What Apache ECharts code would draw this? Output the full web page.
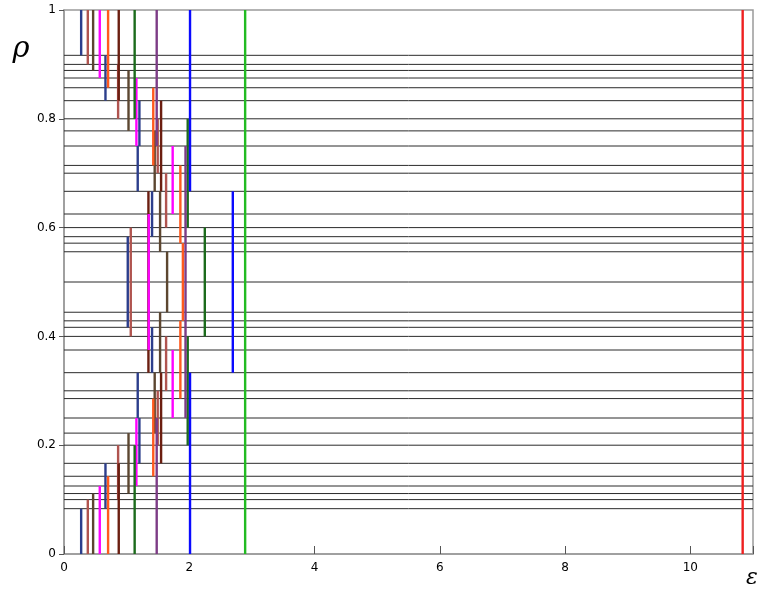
<!DOCTYPE html>
<html>
<head>
<meta charset="utf-8">
<script src="https://cdn.jsdelivr.net/npm/echarts@6/dist/echarts.min.js"></script>
<style>html,body{margin:0;padding:0;background:#fff}#c{width:760px;height:594px}</style>
</head>
<body>
<div id="c"></div>
<script>
// Axis ranges and tick labels
const xRange = [0, 11];
const yRange = [0, 1];
const xTickStep = 2;
const yTickStep = 0.2;

// Horizontal reference levels (rational rho values)
const rhoLevels = [
  0.0833, 0.1, 0.1111, 0.125, 0.1429, 0.1667, 0.2, 0.2222, 0.25, 0.2857, 0.3,
  0.3333, 0.375, 0.4, 0.4167, 0.4286, 0.4444, 0.5, 0.5556, 0.5714, 0.5833, 0.6,
  0.625, 0.6667, 0.7, 0.7143, 0.75, 0.7778, 0.8, 0.8333, 0.8571, 0.875, 0.8889,
  0.9, 0.9167
];

// Vertical segments: [epsilon, rhoLow, rhoHigh]
const segQ12 = [
  [0.274, 0, 0.0833], [0.274, 0.9167, 1],
  [0.662, 0.0833, 0.1667], [0.662, 0.8333, 0.9167],
  [1.204, 0.1667, 0.25], [1.204, 0.75, 0.8333],
  [1.177, 0.25, 0.3333], [1.177, 0.6667, 0.75],
  [1.406, 0.3333, 0.4167], [1.406, 0.5833, 0.6667],
  [1.018, 0.4167, 0.5833]
];
const segQ10 = [
  [0.380, 0, 0.1], [0.380, 0.9, 1],
  [0.864, 0.1, 0.2], [0.864, 0.8, 0.9],
  [1.496, 0.2, 0.3], [1.496, 0.7, 0.8],
  [1.630, 0.3, 0.4], [1.630, 0.6, 0.7],
  [1.066, 0.4, 0.6]
];
const segQ9 = [
  [0.465, 0, 0.1111], [0.465, 0.8889, 1],
  [1.030, 0.1111, 0.2222], [1.030, 0.7778, 0.8889],
  [1.448, 0.2222, 0.3333], [1.448, 0.6667, 0.7778],
  [1.534, 0.3333, 0.4444], [1.534, 0.5556, 0.6667],
  [1.646, 0.4444, 0.5556]
];
const segQ6 = [
  [0.874, 0, 0.1667], [0.874, 0.8333, 1],
  [1.550, 0.1667, 0.3333], [1.550, 0.6667, 0.8333],
  [1.348, 0.3333, 0.6667]
];
const segQ7 = [
  [0.704, 0, 0.1429], [0.704, 0.8571, 1],
  [1.425, 0.1429, 0.2857], [1.425, 0.7143, 0.8571],
  [1.858, 0.2857, 0.4286], [1.858, 0.5714, 0.7143],
  [1.898, 0.4286, 0.5714]
];
const segQ8 = [
  [0.571, 0, 0.125], [0.571, 0.875, 1],
  [1.156, 0.125, 0.25], [1.156, 0.75, 0.875],
  [1.735, 0.25, 0.375], [1.735, 0.625, 0.75],
  [1.353, 0.375, 0.625]
];
const segQ5 = [
  [1.128, 0, 0.2], [1.128, 0.8, 1],
  [1.975, 0.2, 0.4], [1.975, 0.6, 0.8],
  [2.248, 0.4, 0.6]
];
const segQ4 = [
  [1.480, 0, 0.25], [1.480, 0.75, 1],
  [1.940, 0.25, 0.75]
];
const segQ3 = [
  [2.012, 0, 0.3333], [2.012, 0.6667, 1],
  [2.695, 0.3333, 0.6667]
];
const segQ2 = [
  [2.892, 0, 0.5], [2.892, 0.5, 1]
];
const segQ1 = [
  [10.835, 0, 1]
];

const groups = [
  {name: 'q12', data: segQ12},
  {name: 'q10', data: segQ10},
  {name: 'q9', data: segQ9},
  {name: 'q6', data: segQ6},
  {name: 'q7', data: segQ7},
  {name: 'q8', data: segQ8},
  {name: 'q5', data: segQ5},
  {name: 'q4', data: segQ4},
  {name: 'q3', data: segQ3},
  {name: 'q2', data: segQ2},
  {name: 'q1', data: segQ1}
];
const groupColors = {
  q12: '#2c3e8c', q10: '#b0544f', q9: '#5c4630', q8: '#ff00ff', q7: '#ff5a1e',
  q6: '#6b1e10', q5: '#1c6b1c', q4: '#7d3c86', q3: '#0a0aff', q2: '#22bb22', q1: '#ee2020'
};

const chart = echarts.init(document.getElementById('c'), null, {renderer: 'canvas'});

const series = [{
  type: 'custom',
  name: 'levels',
  silent: true,
  clip: true,
  data: rhoLevels.map(r => [xRange[0], r]),
  renderItem: function (params, api) {
    const y = api.value(1);
    const p1 = api.coord([xRange[0], y]);
    const p2 = api.coord([xRange[1], y]);
    return {type: 'line', shape: {x1: p1[0], y1: p1[1], x2: p2[0], y2: p2[1]},
      style: {stroke: '#2b2b2b', lineWidth: 1}};
  },
  z: 1
}];

groups.forEach(g => {
  series.push({
    type: 'custom',
    name: g.name,
    silent: true,
    clip: true,
    data: g.data,
    renderItem: function (params, api) {
      const x = api.value(0);
      const a = api.coord([x, api.value(1)]);
      const b = api.coord([x, api.value(2)]);
      return {type: 'line', shape: {x1: a[0], y1: a[1], x2: b[0], y2: b[1]},
        style: {stroke: groupColors[g.name], lineWidth: 2.4}};
    },
    z: 2
  });
});

chart.setOption({
  animation: false,
  backgroundColor: '#fff',
  grid: {left: 64, right: 7, top: 10, bottom: 40, show: true, borderColor: '#9a9a9a', borderWidth: 1.5},
  xAxis: {
    type: 'value', min: xRange[0], max: xRange[1], interval: xTickStep,
    axisLine: {show: true, lineStyle: {color: '#9a9a9a', width: 1.5}},
    axisTick: {show: true, inside: true, length: 8, lineStyle: {color: '#555'}},
    axisLabel: {color: '#000', fontSize: 12, margin: 8, fontFamily: 'DejaVu Sans',
      formatter: v => (v % xTickStep === 0 ? String(v) : '')},
    splitLine: {show: false}
  },
  yAxis: {
    type: 'value', min: yRange[0], max: yRange[1], interval: yTickStep,
    axisLine: {show: true, lineStyle: {color: '#9a9a9a', width: 1.5}},
    axisTick: {show: true, inside: false, length: 5, lineStyle: {color: '#555'}},
    axisLabel: {color: '#000', fontSize: 12, margin: 8, fontFamily: 'DejaVu Sans',
      formatter: v => String(Math.round(v * 10) / 10)},
    splitLine: {show: false}
  },
  graphic: [
    {type: 'text', style: {x: 21, y: 64, text: 'ρ', textAlign: 'center', textVerticalAlign: 'bottom',
      font: 'italic 29px "DejaVu Serif"', fill: '#000'}},
    {type: 'text', style: {x: 752, y: 589, text: 'ε', textAlign: 'center', textVerticalAlign: 'bottom',
      font: 'italic 22px "DejaVu Serif"', fill: '#000'}}
  ],
  series: series
});
</script>
</body>
</html>
